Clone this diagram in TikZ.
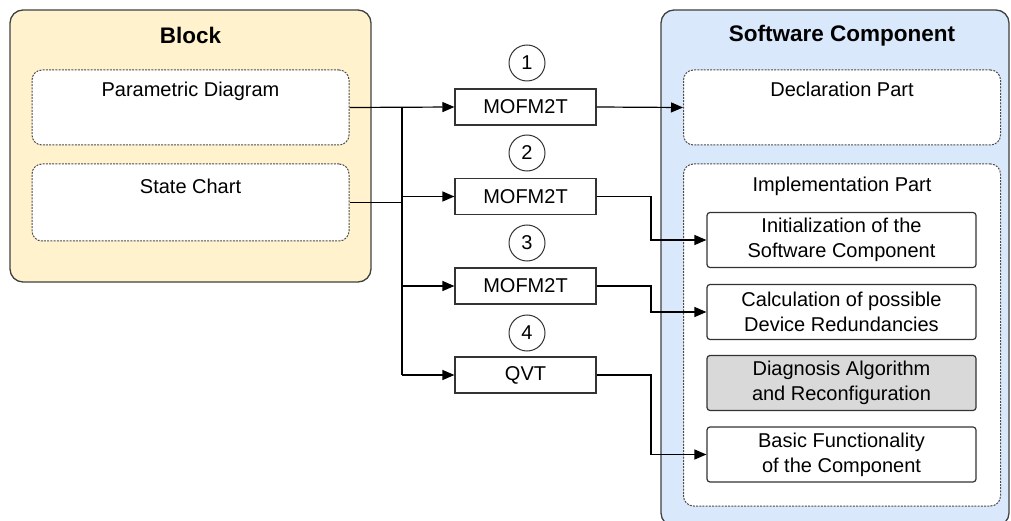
\documentclass[tikz,border=0pt]{standalone}
\usepackage{fontspec}
\setmainfont{Liberation Sans}
\usetikzlibrary{arrows.meta}
\definecolor{blockfill}{HTML}{FFF2CC}
\definecolor{compfill}{HTML}{DAE8FC}
\definecolor{diagfill}{HTML}{D9D9D9}
\tikzset{
  outer/.style={draw=black!75, line width=1.3pt, rounded corners=13pt, inner sep=0pt},
  part/.style={draw=black!70, dash pattern=on 2pt off 1.2pt, line width=1pt, fill=white,
    rounded corners=10pt, minimum width=317pt, inner sep=0pt},
  trafo/.style={draw=black!80, line width=1.2pt, minimum width=141pt, minimum height=36pt, inner sep=0pt},
  num/.style={circle, draw=black!80, line width=1pt, minimum size=36pt, inner sep=0pt},
  sub/.style={draw=black!80, line width=1.2pt, rounded corners=3pt, fill=white,
    minimum width=269pt, minimum height=55pt, align=center, inner sep=0pt},
  title/.style={font=\fontsize{22.5}{26}\selectfont\bfseries},
  arr/.style={-{Triangle[length=12pt,width=10pt]}, line width=1.2pt},
  wire/.style={line width=1.2pt}
}
\begin{document}
\begin{tikzpicture}[x=1pt, y=-1pt, font=\fontsize{20}{25}\selectfont]
    \useasboundingbox (0,0) rectangle (1011,521);
    \clip (0,0) rectangle (1011,521);

    % block side
    \draw (190.5,146) node[outer, fill=blockfill, minimum width=361pt, minimum height=272pt] (block) {};
    \draw (190.5,35) node[title] (blocktitle) {Block};
    \draw (190.5,107.5) node[part, minimum height=75pt] (pd) {};
    \draw (190.5,91) node (pdtext) {Parametric Diagram};
    \draw (190.5,202.5) node[part, minimum height=77pt] (sc) {};
    \draw (190.5,186) node (sctext) {State Chart};

    % software component side
    \draw (835,268) node[outer, fill=compfill, minimum width=348pt, minimum height=516pt] (comp) {};
    \draw (842,36) node[title] (comptitle) {Software Component};
    \draw (842,107.5) node[part, minimum height=75pt] (decl) {};
    \draw (842,89) node (decltext) {Declaration Part};
    \draw (842,335) node[part, minimum height=342pt] (impl) {};
    \draw (842,186) node (impltext) {Implementation Part};
    \draw (841.5,240) node[sub] (init) {Initialization of the\\Software Component};
    \draw (841.5,312) node[sub] (calc) {Calculation of possible\\Device Redundancies};
    \draw (841.5,383) node[sub, fill=diagfill] (diag) {Diagnosis Algorithm\\and Reconfiguration};
    \draw (841.5,454.5) node[sub] (basic) {Basic Functionality\\of the Component};

    % transformations
    \draw (525.5,107) node[trafo] (mof1) {MOFM2T};
    \draw (525.5,196.5) node[trafo] (mof2) {MOFM2T};
    \draw (525.5,286) node[trafo] (mof3) {MOFM2T};
    \draw (525.5,375) node[trafo] (qvt) {QVT};
    \draw (527,63) node[num] (n1) {1};
    \draw (527,153) node[num] (n2) {2};
    \draw (527,243) node[num] (n3) {3};
    \draw (527,333) node[num] (n4) {4};

    \coordinate (jx) at (402,0);
    \coordinate (bx) at (651,0);

    \draw[arr] (pd.east) -- (mof1.west);
    \draw[wire] (sc.east) -- (sc.east -| jx);
    \draw[wire] (mof1.west -| jx) -- (qvt.west -| jx);
    \foreach \t in {mof2,mof3,qvt}
        \draw[arr] (\t.west -| jx) -- (\t.west);

    \draw[arr] (mof1.east) -- (decl.west);
    \foreach \a/\b in {mof2/init,mof3/calc,qvt/basic}
        \draw[arr] (\a.east) -- (\a.east -| bx) |- (\b.west);
\end{tikzpicture}
\end{document}
